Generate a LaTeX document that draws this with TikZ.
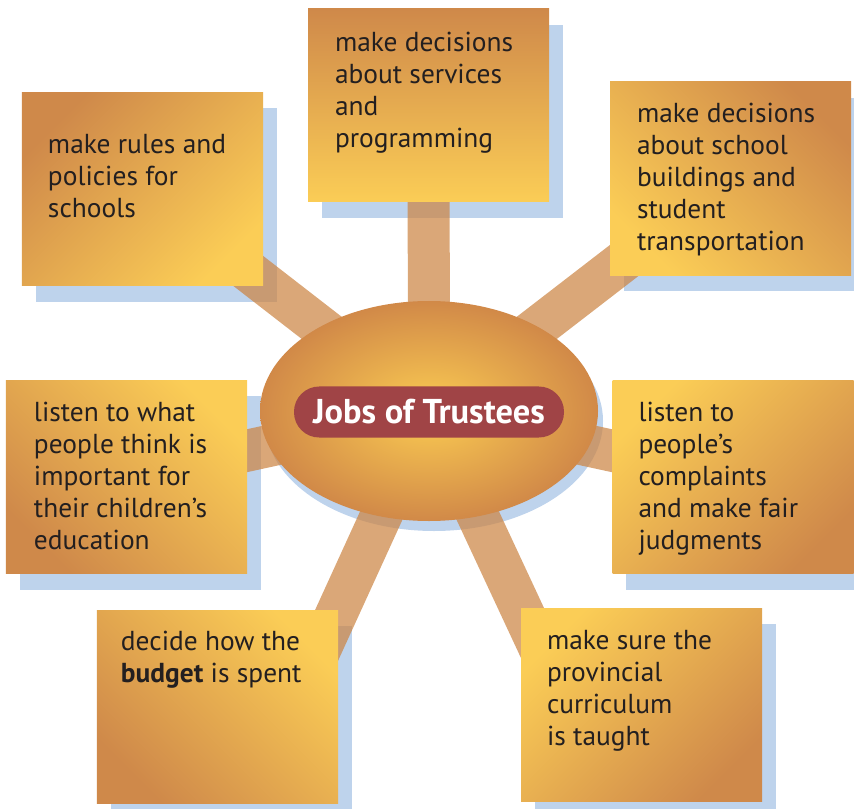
\documentclass[tikz,border=0pt]{standalone}
\usepackage{fontspec}
\setmainfont{PT Sans}
\usepackage{tikz}
\usetikzlibrary{shapes.geometric,calc}
\usepackage{xcolor}

\definecolor{carddark}{RGB}{207,137,74}
\definecolor{cardlight}{RGB}{251,205,86}
\definecolor{hubin}{RGB}{243,191,80}
\definecolor{hubout}{RGB}{209,137,72}
\definecolor{spokecol}{RGB}{204,133,68}
\definecolor{shade}{RGB}{190,211,236}
\definecolor{barred}{RGB}{160,68,70}
\definecolor{ink}{RGB}{35,31,32}

\pgfdeclareradialshading{hubshading}{\pgfpoint{0bp}{0bp}}{color(0bp)=(hubin); color(5bp)=(hubin); color(25bp)=(hubout); color(50bp)=(hubout)}
\pgfdeclarelayer{shadow}
\pgfdeclarelayer{spoke}
\pgfsetlayers{shadow,spoke,main}

\begin{document}
\begin{tikzpicture}[x=0.25mm, y=-0.25mm,
    card/.style={rectangle, minimum width=60.25mm, minimum height=48.25mm, inner sep=0pt,
        top color=carddark, bottom color=cardlight},
    jobtext/.style={anchor=north west, inner sep=0pt, align=left, text=ink,
        font=\fontsize{19.5}{22.76}\selectfont},
    spoke/.style={line width=10.5mm, draw=spokecol, draw opacity=0.72},
    shadowbox/.style={fill=shade}
]
\useasboundingbox (0,0) rectangle (854,809);

% centre
\node[ellipse, minimum width=84.5mm, minimum height=55mm, inner sep=0pt, shading=hubshading] (hub) at (429,411) {};
\node[fill=barred, rounded corners=6.3mm, minimum width=67.5mm, minimum height=12.75mm,
    text=white, font=\fontsize{24.5}{29}\selectfont\bfseries] (title) at (429,412) {Jobs of Trustees};

% boxes
\node[card, shading angle=45] (rulesbox) at (142.5,189) {};
\node[card, shading angle=0] (servicesbox) at (428.5,105.5) {};
\node[card, shading angle=-45] (buildingsbox) at (730.5,178.5) {};
\node[card, shading angle=135] (listenbox) at (126.5,477) {};
\node[card, shading angle=-135] (complaintsbox) at (733,477) {};
\node[card, shading angle=135] (budgetbox) at (217.5,706.5) {};
\node[card, shading angle=-135] (curriculumbox) at (641.5,704.5) {};

% texts
\node[jobtext] (rulestxt) at ([shift={(26,42)}]rulesbox.north west)
    {make rules and\\policies for\\schools};
\node[jobtext] (servicestxt) at ([shift={(27,23)}]servicesbox.north west)
    {make decisions\\about services\\and\\programming};
\node[jobtext] (buildingstxt) at ([shift={(27,21)}]buildingsbox.north west)
    {make decisions\\about school\\buildings and\\student\\transportation};
\node[jobtext] (listentxt) at ([shift={(28,22)}]listenbox.north west)
    {listen to what\\people think is\\important for\\their children’s\\education};
\node[jobtext] (complaintstxt) at ([shift={(26,22)}]complaintsbox.north west)
    {listen to\\people’s\\complaints\\and make fair\\judgments};
\node[jobtext] (budgettxt) at ([shift={(24,21)}]budgetbox.north west)
    {decide how the\\\textbf{budget} is spent};
\node[jobtext] (curriculumtxt) at ([shift={(26,22)}]curriculumbox.north west)
    {make sure the\\provincial\\curriculum\\is taught};

% shadows
\begin{pgfonlayer}{shadow}
\fill[shadowbox] ([shift={(14,16)}]rulesbox.north west) rectangle ([shift={(14,16)}]rulesbox.south east);
\fill[shadowbox] ([shift={(14,16)}]servicesbox.north west) rectangle ([shift={(14,16)}]servicesbox.south east);
\fill[shadowbox] ([shift={(14,16)}]buildingsbox.north west) rectangle ([shift={(14,16)}]buildingsbox.south east);
\fill[shadowbox] ([shift={(14,16)}]listenbox.north west) rectangle ([shift={(14,16)}]listenbox.south east);
\fill[shadowbox] ([shift={(14,16)}]complaintsbox.north west) rectangle ([shift={(14,16)}]complaintsbox.south east);
\fill[shadowbox] ([shift={(14,16)}]budgetbox.north west) rectangle ([shift={(14,16)}]budgetbox.south east);
\fill[shadowbox] ([shift={(14,16)}]curriculumbox.north west) rectangle ([shift={(14,16)}]curriculumbox.south east);
\node[ellipse, minimum width=84.5mm, minimum height=55mm, inner sep=0pt, shadowbox] (hubshadow) at ([shift={(5,10)}]hub.center) {};
\end{pgfonlayer}

% spokes
\begin{pgfonlayer}{spoke}
\draw[spoke] (hub.center) -- (rulesbox.center);
\draw[spoke] (hub.center) -- (servicesbox.center);
\draw[spoke] (hub.center) -- (buildingsbox.center);
\draw[spoke] (hub.center) -- (listenbox.center);
\draw[spoke] (hub.center) -- (complaintsbox.center);
\draw[spoke, shorten >=-12mm] (hub.center) -- (budgetbox.north east);
\draw[spoke, shorten >=-12mm] (hub.center) -- (curriculumbox.north west);
\end{pgfonlayer}
\end{tikzpicture}
\end{document}
